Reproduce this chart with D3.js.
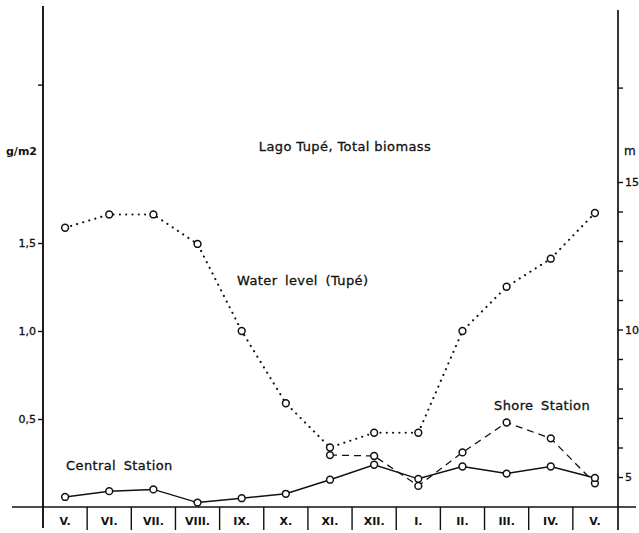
<!DOCTYPE html>
<html>
<head>
<meta charset="utf-8">
<script src="https://cdn.jsdelivr.net/npm/d3@7"></script>
<style>
  html, body { margin: 0; padding: 0; background: #fff; }
  svg { display: block; }
  text { font-family: "DejaVu Sans", sans-serif; fill: #111; }
</style>
</head>
<body>
<svg id="chart" width="639" height="533"></svg>
<script>
// Months of the sampling year (May to May)
const months = ["V.", "VI.", "VII.", "VIII.", "IX.", "X.", "XI.", "XII.", "I.", "II.", "III.", "IV.", "V."];

// Total biomass, g/m2
const centralStation = [0.057, 0.09, 0.10, 0.025, 0.05, 0.075, 0.155, 0.24, 0.16, 0.23, 0.19, 0.23, 0.165];
const shoreStation = [null, null, null, null, null, null, 0.295, 0.29, 0.12, 0.31, 0.48, 0.39, 0.135];

// Water level of Lago Tupé, m
const waterLevel = [13.45, 13.9, 13.9, 12.9, 9.95, 7.5, 6.0, 6.5, 6.5, 9.95, 11.45, 12.4, 13.95];

// Axis ticks
const biomassTicks = [0.5, 1.0, 1.5, 2.4];
const biomassTickLabels = ["0,5", "1,0", "1,5", ""];
const levelTicks = [5, 6, 7, 8, 9, 10, 11, 12, 13, 14, 15, 18.2];
const levelTickLabels = { 5: "5", 10: "10", 15: "15" };

const svg = d3.select("#chart");

const left = 43, right = 618, base = 507;

const x = d3.scaleBand().domain(d3.range(months.length)).range([left, right - 1]);
const cx = i => x(i) + x.bandwidth() / 2;
const y = d3.scaleLinear().domain([0, 1.5]).range([base, 243]);
const yR = d3.scaleLinear().domain([5, 15]).range([477, 182]);

const ink = "#111";

// Frame: baseline and the two vertical axes
svg.append("line").attr("x1", 12).attr("x2", 636).attr("y1", base).attr("y2", base)
  .attr("stroke", ink).attr("stroke-width", 1.7);
svg.append("line").attr("x1", left).attr("x2", left).attr("y1", 6).attr("y2", 528)
  .attr("stroke", ink).attr("stroke-width", 1.9);
svg.append("line").attr("x1", right).attr("x2", right).attr("y1", 10).attr("y2", 530)
  .attr("stroke", ink).attr("stroke-width", 1.7);

// Left axis (biomass)
const leftAxis = d3.axisLeft(y).tickValues(biomassTicks)
  .tickFormat((d, i) => biomassTickLabels[i]).tickSize(5).tickPadding(2);
const gL = svg.append("g").attr("transform", `translate(${left},0)`).call(leftAxis);
gL.select(".domain").remove();
gL.selectAll(".tick line").attr("stroke", ink).attr("stroke-width", 1.4);
gL.selectAll(".tick text").attr("font-size", 11).attr("font-family", "DejaVu Sans")
  .attr("fill", ink).attr("stroke", ink).attr("stroke-width", 0.3);

// Right axis (water level)
const rightAxis = d3.axisRight(yR).tickValues(levelTicks)
  .tickFormat(d => levelTickLabels[d] || "").tickSize(5).tickPadding(2);
const gR = svg.append("g").attr("transform", `translate(${right},0)`).call(rightAxis);
gR.select(".domain").remove();
gR.selectAll(".tick line").attr("stroke", ink).attr("stroke-width", 1.4);
gR.selectAll(".tick text").attr("font-size", 11).attr("font-family", "DejaVu Sans")
  .attr("fill", ink).attr("stroke", ink).attr("stroke-width", 0.3);

// Month cells under the baseline
const dividers = d3.range(1, months.length);
svg.append("g").selectAll("line").data(dividers).join("line")
  .attr("x1", d => x(d)).attr("x2", d => x(d))
  .attr("y1", base).attr("y2", 530)
  .attr("stroke", ink).attr("stroke-width", 1.4);
svg.append("g").selectAll("text").data(months).join("text")
  .attr("x", (d, i) => cx(i)).attr("y", 525)
  .attr("text-anchor", "middle").attr("font-size", 11).attr("font-weight", "bold")
  .attr("font-family", "DejaVu Sans Condensed, DejaVu Sans")
  .text(d => d);

// Series lines
const lineB = d3.line().defined(d => d.v != null).x(d => cx(d.i)).y(d => y(d.v));
const lineW = d3.line().x(d => cx(d.i)).y(d => yR(d.v));
const asPts = arr => arr.map((v, i) => ({ i, v }));

svg.append("path").datum(asPts(waterLevel)).attr("d", lineW)
  .attr("fill", "none").attr("stroke", ink).attr("stroke-width", 2.1)
  .attr("stroke-dasharray", "0.1 6.2").attr("stroke-linecap", "round");

svg.append("path").datum(asPts(shoreStation)).attr("d", lineB)
  .attr("fill", "none").attr("stroke", ink).attr("stroke-width", 1.3)
  .attr("stroke-dasharray", "7 5");

svg.append("path").datum(asPts(centralStation)).attr("d", lineB)
  .attr("fill", "none").attr("stroke", ink).attr("stroke-width", 1.5);

// Open circle markers
function markers(pts, yScale) {
  svg.append("g").selectAll("circle").data(pts.filter(d => d.v != null)).join("circle")
    .attr("cx", d => cx(d.i)).attr("cy", d => yScale(d.v)).attr("r", 3.4)
    .attr("fill", "#fff").attr("stroke", ink).attr("stroke-width", 1.5);
}
markers(asPts(waterLevel), yR);
markers(asPts(shoreStation), y);
markers(asPts(centralStation), y);

// Labels
const label = (tx, ty, s, anchor = "start") =>
  svg.append("text").attr("x", tx).attr("y", ty).attr("font-size", 13)
    .attr("letter-spacing", 0.4).attr("word-spacing", 3)
    .attr("stroke", ink).attr("stroke-width", 0.3)
    .attr("text-anchor", anchor).text(s);

label(6, 155, "g/m2").attr("font-size", 11).attr("font-weight", "bold")
  .attr("letter-spacing", 0).attr("stroke-width", 0);
label(624, 155, "m").attr("font-size", 12);
label(345, 151, "Lago Tupé, Total biomass", "middle").attr("word-spacing", 0);
label(237, 285, "Water level (Tupé)");
label(66, 470, "Central Station");
label(494, 410, "Shore Station");
</script>
</body>
</html>
